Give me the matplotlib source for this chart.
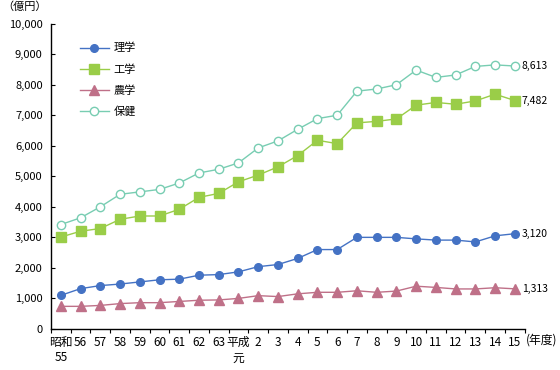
import matplotlib
matplotlib.use("Agg")
import matplotlib.pyplot as plt
from matplotlib.ticker import FuncFormatter

plt.rcParams['font.family'] = ['Noto Sans CJK JP', 'DejaVu Sans']

# categories (fiscal years)
years = ["昭和\n55", "56", "57", "58", "59", "60", "61", "62", "63", "平成\n元",
         "2", "3", "4", "5", "6", "7", "8", "9", "10", "11", "12", "13", "14", "15"]

# values in 億円
rigaku = [1100, 1320, 1420, 1470, 1540, 1610, 1630, 1760, 1780, 1870,
          2040, 2110, 2310, 2600, 2600, 3000, 3000, 3000, 2950, 2910,
          2910, 2850, 3050, 3120]
kougaku = [3010, 3200, 3290, 3590, 3700, 3700, 3920, 4310, 4440, 4820,
           5040, 5310, 5680, 6180, 6070, 6750, 6800, 6880, 7330, 7420,
           7360, 7470, 7690, 7482]
nougaku = [740, 740, 770, 830, 860, 860, 900, 940, 950, 1000,
           1090, 1060, 1150, 1200, 1200, 1250, 1200, 1240, 1400, 1360,
           1310, 1310, 1350, 1313]
hoken = [3420, 3640, 4000, 4410, 4490, 4570, 4780, 5110, 5230, 5440,
         5930, 6160, 6540, 6890, 7000, 7790, 7860, 8000, 8480, 8240,
         8320, 8600, 8650, 8613]

end_labels = ["3,120", "7,482", "1,313", "8,613"]

fig = plt.figure(figsize=(5.6, 3.7), dpi=100)
ax = fig.add_axes([0.091, 0.111, 0.846, 0.825])

x = list(range(len(years)))
ax.plot(x, rigaku, color="#4472C4", marker="o", markersize=5.5, linewidth=1, label="理学")
ax.plot(x, kougaku, color="#9ACD48", marker="s", markersize=6.5, linewidth=1, label="工学")
ax.plot(x, nougaku, color="#BF7088", marker="^", markersize=6.5, linewidth=1, label="農学")
ax.plot(x, hoken, color="#78CDB2", marker="o", markersize=6, linewidth=1,
        markerfacecolor="white", label="保健")

# labels at the last point
for series, lab in zip([rigaku, kougaku, nougaku, hoken], end_labels):
    ax.annotate(lab, (x[-1], series[-1]), xytext=(5, 0), textcoords="offset points",
                ha="left", va="center", fontsize=7.5)

ax.set_xlim(-0.5, len(years) - 0.5)
ax.set_ylim(0, 10000)
ax.set_yticks(range(0, 10001, 1000))
ax.yaxis.set_major_formatter(FuncFormatter(lambda v, p: f"{int(v):,}"))
ax.set_xticks(x)
ax.set_xticklabels(years, fontsize=8.5, va="top", linespacing=1.25)
ax.set_xticks([i + 0.5 for i in range(-1, len(years))], minor=True)
ax.tick_params(axis="x", which="major", length=0, pad=5)
ax.tick_params(axis="x", which="minor", direction="out", length=3, width=0.8)
ax.tick_params(axis="y", direction="in", length=3, width=0.8, labelsize=8, pad=6)

for s in ["top", "right"]:
    ax.spines[s].set_visible(False)
for s in ["left", "bottom"]:
    ax.spines[s].set_linewidth(1)

fig.text(0.004, 0.995, "（億円）", ha="left", va="top", fontsize=8)
ax.text(len(years) - 0.42, -160, "(年度)", transform=ax.transData, ha="left", va="top",
        fontsize=8.5, clip_on=False)

ax.legend(loc="upper left", bbox_to_anchor=(0.04, 0.97), frameon=False, fontsize=8,
          handlelength=2.6, labelspacing=0.95, handletextpad=0.4)

fig.savefig("out.png", dpi=100)
